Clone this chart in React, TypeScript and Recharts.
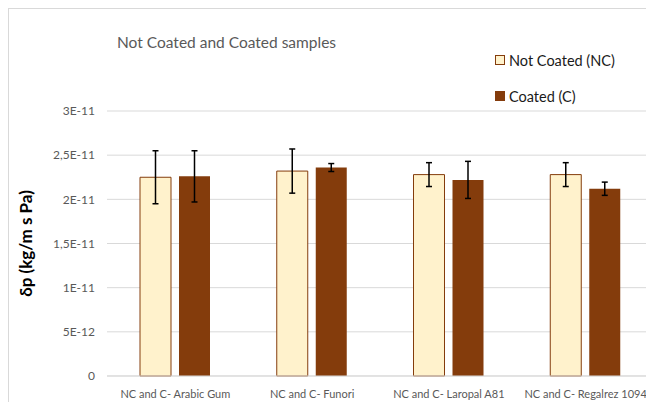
import { BarChart, Bar, XAxis, YAxis, CartesianGrid, ErrorBar } from "recharts";

const categories = [
  "NC and C- Arabic Gum",
  "NC and C- Funori",
  "NC and C- Laropal A81",
  "NC and C- Regalrez 1094",
];
const notCoated = [2.25e-11, 2.32e-11, 2.28e-11, 2.28e-11];
const notCoatedErr = [0.3e-11, 0.25e-11, 0.135e-11, 0.135e-11];
const coated = [2.26e-11, 2.36e-11, 2.22e-11, 2.12e-11];
const coatedErr = [0.29e-11, 0.045e-11, 0.21e-11, 0.075e-11];

const yTicks = [0, 5e-12, 1e-11, 1.5e-11, 2e-11, 2.5e-11, 3e-11];
const yTickLabels = ["0", "5E-12", "1E-11", "1,5E-11", "2E-11", "2,5E-11", "3E-11"];

const data = categories.map((name, i) => ({
  name,
  nc: notCoated[i],
  ncErr: notCoatedErr[i],
  c: coated[i],
  cErr: coatedErr[i],
}));

const FONT = "Lato, 'Liberation Sans', sans-serif";
const DARK = "#843C0C";
const LIGHT = "#FFF2CC";

const series = [
  { key: "nc", err: "ncErr", name: "Not Coated (NC)", fill: LIGHT, stroke: DARK },
  { key: "c", err: "cErr", name: "Coated (C)", fill: DARK, stroke: "none" },
];

const fmtY = (v: number) => {
  let best = 0;
  yTicks.forEach((t, i) => {
    if (Math.abs(t - v) < Math.abs(yTicks[best] - v)) best = i;
  });
  return yTickLabels[best];
};

export default function App() {
  return (
    <div
      style={{
        position: "relative",
        width: 646,
        height: 394,
        overflow: "hidden",
        borderLeft: "1px solid #d9d9d9",
        borderTop: "1px solid #d9d9d9",
        boxSizing: "border-box",
        background: "#fff",
      }}
    >
      <div
        style={{
          position: "absolute",
          left: 108,
          top: 24,
          fontFamily: FONT,
          fontSize: 15.5,
          color: "#595959",
          whiteSpace: "nowrap",
        }}
      >
        Not Coated and Coated samples
      </div>
      <div
        style={{
          position: "absolute",
          left: 486,
          top: 33,
          fontFamily: FONT,
          fontSize: 14.5,
          color: "#1a1a1a",
          zIndex: 2,
        }}
      >
        {series.map((s) => (
          <div key={s.key} style={{ display: "flex", alignItems: "center", height: 36 }}>
            <span
              style={{
                display: "inline-block",
                width: 8,
                height: 8,
                background: s.fill,
                border: `1px solid ${DARK}`,
                marginRight: 4,
              }}
            />
            {s.name}
          </div>
        ))}
      </div>
      <BarChart
        width={645}
        height={393}
        data={data}
        margin={{ top: 102, right: 0, bottom: 0, left: 0 }}
        barSize={31}
        barGap={8}
      >
        <CartesianGrid vertical={false} stroke="#d9d9d9" />
        <XAxis
          dataKey="name"
          axisLine={{ stroke: "#d9d9d9" }}
          tickLine={false}
          tickMargin={8}
          height={26}
          interval={0}
          tick={{ fontFamily: FONT, fontSize: 11, fill: "#595959" }}
        />
        <YAxis
          domain={[0, 3e-11]}
          ticks={yTicks}
          tickFormatter={fmtY}
          axisLine={false}
          tickLine={false}
          tickMargin={6}
          width={98}
          tick={{ fontFamily: FONT, fontSize: 12, fill: "#595959" }}
          label={{
            value: "δp (kg/m s Pa)",
            angle: -90,
            position: "insideLeft",
            offset: 17,
            style: { textAnchor: "middle", fontFamily: FONT, fontSize: 17, fontWeight: 700, fill: "#000" },
          }}
        />
        {series.map((s) => (
          <Bar
            key={s.key}
            dataKey={s.key}
            name={s.name}
            fill={s.fill}
            stroke={s.stroke}
            strokeWidth={1}
            isAnimationActive={false}
          >
            <ErrorBar dataKey={s.err} width={3} stroke="#000" strokeWidth={1.5} />
          </Bar>
        ))}
      </BarChart>
    </div>
  );
}
